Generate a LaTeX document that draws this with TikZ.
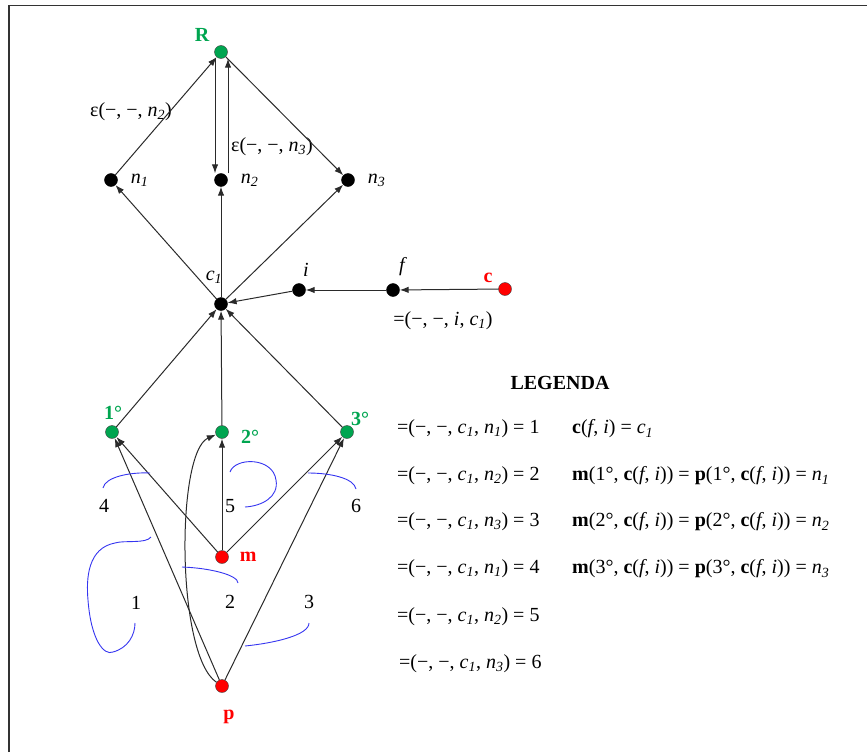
\documentclass[tikz,border=0pt]{standalone}
\usepackage{fontspec}
\setmainfont{Liberation Serif}
\usetikzlibrary{arrows.meta, positioning}
\definecolor{NodeGreen}{HTML}{00A550}
\definecolor{NodeRed}{HTML}{FF0000}
\definecolor{CurveBlue}{HTML}{3535F0}
\definecolor{EdgeGray}{HTML}{2A2A2A}
\definecolor{FrameGray}{HTML}{333333}
\newcommand{\isub}[2]{\textit{#1}\textsubscript{\textit{#2}}}

\begin{document}
\begin{tikzpicture}[
  x=1pt, y=-1pt,
  every node/.style={font=\fontsize{20}{24}\selectfont},
  dot/.style={circle, draw=black, fill=black, inner sep=0pt, minimum size=13pt},
  gdot/.style={dot, fill=NodeGreen, draw=black!75},
  rdot/.style={dot, fill=NodeRed, draw=black!75},
  arr/.style={-{Latex[length=9pt,width=6.5pt]}, line width=1pt, color=EdgeGray},
  lbl/.style={inner sep=1pt, font=\fontsize{20}{24}\selectfont\itshape},
  glbl/.style={inner sep=1pt, font=\fontsize{20}{24}\selectfont\bfseries, text=NodeGreen},
  rlbl/.style={inner sep=1pt, font=\fontsize{20}{24}\selectfont\bfseries, text=NodeRed},
  curl/.style={CurveBlue, line width=0.9pt},
  row/.style={anchor=west, inner sep=0pt}
]
\useasboundingbox (0,0) rectangle (867,752);
\draw[FrameGray, line width=1.3pt] (9,752) -- (9,5.5) -- (867,5.5);

% dots
\node[gdot] (R)  at (221,52)  {};
\node[dot]  (n1) at (111,180) {};
\node[dot]  (n2) at (221,180) {};
\node[dot]  (n3) at (348,180) {};
\node[dot]  (c1) at (221,304) {};
\node[dot]  (i)  at (299,290) {};
\node[dot]  (f)  at (393,290) {};
\node[rdot] (c)  at (505,289) {};
\node[gdot] (o1) at (112,432) {};
\node[gdot] (o2) at (222,432) {};
\node[gdot] (o3) at (347,432) {};
\node[rdot] (m)  at (222,557) {};
\node[rdot] (p)  at (222,686) {};

% labels
\node[glbl] at (202,35) {R};
\node[lbl, right=12pt of n1] {\isub{n}{1}};
\node[lbl, right=12pt of n2] {\isub{n}{2}};
\node[lbl, right=12pt of n3] {\isub{n}{3}};
\node[lbl] at (131,112) {\upshape ε(−, −, \isub{n}{2})};
\node[lbl] at (272,147) {\upshape ε(−, −, \isub{n}{3})};
\node[lbl] at (214,277) {\isub{c}{1}};
\node[lbl] at (306,270) {i};
\node[lbl] at (402,267) {f};
\node[rlbl] at (488,278) {c};
\node[lbl] at (443,321) {\upshape =(−, −, \textit{i}, \isub{c}{1})};
\node[glbl] at (113,413) {1°};
\node[glbl] at (250,437) {2°};
\node[glbl] at (360,419) {3°};
\node[rlbl, right=10pt of m] {m};
\node[rlbl] at (229,717) {p};
\node (k4) at (104,506) {4};
\node (k5) at (230,506) {5};
\node (k6) at (356,506) {6};
\node (k1) at (136,603) {1};
\node (k2) at (230,602) {2};
\node (k3) at (309,602) {3};

% top part
\draw[arr] (n1) -- (R);
\draw[arr] ([xshift=-6pt]R.south) -- ([xshift=-6pt]n2.north);
\draw[arr] ([xshift=7pt]n2.north) -- ([xshift=7pt]R.south);
\draw[arr] (R) -- (n3);
\draw[arr] (c1) -- (n1);
\draw[arr] (c1) -- (n2);
\draw[arr] (c1) -- (n3);
\draw[arr] (c) -- (f);
\draw[arr] (f) -- (i);
\draw[arr] (i) -- (c1);
\draw[arr] (o1) -- (c1);
\draw[arr] (o2) -- (c1);
\draw[arr] (o3) -- (c1);

% bottom part
\draw[arr] (m) -- (o1);
\draw[arr] (m) -- (o2);
\draw[arr] (m) -- (o3);
\draw[arr] (p) -- (o1);
\draw[arr] (p) .. controls (176,655) and (176,452) .. (o2);
\draw[arr] (p) -- (o3);

% blue marks
\draw[curl] (103,488) .. controls (105,477) and (130,472) .. (150,473);
\draw[curl] (230,472) .. controls (235,457) and (273,457) .. (276,480)
            .. controls (279,497) and (262,506) .. (245,507);
\draw[curl] (308,473) .. controls (330,473) and (354,478) .. (356,489);
\draw[curl] (151,537) .. controls (146,544) and (124,540) .. (115,543)
            .. controls (88,548) and (86,578) .. (88,600)
            .. controls (91,640) and (104,656) .. (113,652)
            .. controls (128,648) and (135,635) .. (135,623);
\draw[curl] (182,567) .. controls (210,568) and (238,575) .. (238,583);
\draw[curl] (245,646) .. controls (275,643) and (309,635) .. (309,623);

% legend
\node[font=\fontsize{20}{24}\selectfont\bfseries] (leg) at (560,383) {LEGENDA};
\node[row] (l1) at (397,429) {=(−, −, \isub{c}{1}, \isub{n}{1}) = 1};
\node[row] (l2) at (397,476) {=(−, −, \isub{c}{1}, \isub{n}{2}) = 2};
\node[row] (l3) at (397,522) {=(−, −, \isub{c}{1}, \isub{n}{3}) = 3};
\node[row] (l4) at (397,569) {=(−, −, \isub{c}{1}, \isub{n}{1}) = 4};
\node[row] (l5) at (397,617) {=(−, −, \isub{c}{1}, \isub{n}{2}) = 5};
\node[row] (l6) at (399,664) {=(−, −, \isub{c}{1}, \isub{n}{3}) = 6};
\node[row] (r1) at (572,429) {\textbf{c}(\textit{f}, \textit{i}) = \isub{c}{1}};
\node[row] (r2) at (572,476) {\textbf{m}(1°, \textbf{c}(\textit{f}, \textit{i})) = \textbf{p}(1°, \textbf{c}(\textit{f}, \textit{i})) = \isub{n}{1}};
\node[row] (r3) at (572,522) {\textbf{m}(2°, \textbf{c}(\textit{f}, \textit{i})) = \textbf{p}(2°, \textbf{c}(\textit{f}, \textit{i})) = \isub{n}{2}};
\node[row] (r4) at (572,569) {\textbf{m}(3°, \textbf{c}(\textit{f}, \textit{i})) = \textbf{p}(3°, \textbf{c}(\textit{f}, \textit{i})) = \isub{n}{3}};
\end{tikzpicture}
\end{document}
